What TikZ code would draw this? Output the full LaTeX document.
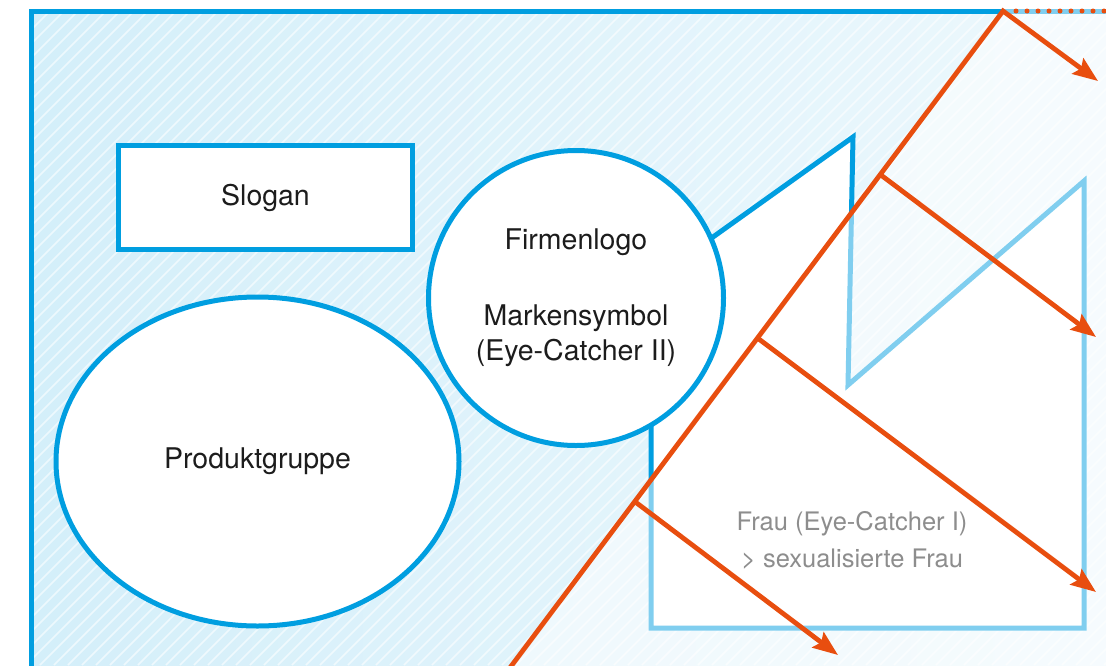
\documentclass[tikz,border=0pt]{standalone}
\usepackage{fontspec}
\setmainfont{TeX Gyre Heros}
\usepackage{xcolor}
\usetikzlibrary{positioning, arrows.meta, shapes.geometric, calc}

\definecolor{adblue}{RGB}{0,158,224}
\definecolor{adorange}{RGB}{232,78,15}
\definecolor{adtext}{RGB}{28,28,28}

\begin{document}
\begin{tikzpicture}[x=1pt, y=-1pt,
  blueline/.style={draw=adblue, line width=5pt},
  shapebox/.style={blueline, fill=white, inner sep=0pt, outer sep=0pt, align=center, text=adtext, font=\fontsize{28.5}{35}\selectfont},
  hatch/.style={white, opacity=0.6, line width=1.6pt},
  cutline/.style={draw=adorange, line width=4.8pt, line join=miter},
  pointer/.style={cutline, -{Stealth[length=25pt, width=19pt, inset=4pt]}}
]
  \useasboundingbox (0,0) rectangle (1106,665);

  % Background of the ad
  \fill[left color=adblue!17, right color=adblue!7] (31,11) rectangle (1106,665);
  \begin{scope}
    \clip (31,11) rectangle (1106,665);
    \foreach \i in {-660,-646,...,1120}
      \draw[hatch] (\i,665) -- ++(665,-665);
  \end{scope}
  \draw[blueline] (31,11) rectangle (1130,690);

  % Woman figure
  \draw[blueline, fill=white] (650,282) -- (853,137) -- (848,385) -- (1084,181) -- (1084,628) -- (651,628) -- (651,400) -- cycle;

  % Slogan
  \node[shapebox, minimum width=294pt, minimum height=104pt] (slogan) at (265.5,197.5) {Slogan};

  % Product group
  \node[shapebox, ellipse, minimum width=403pt, minimum height=329pt] (produkt) at (257.5,461.5) {Produktgruppe};

  % Logo
  \node[shapebox, circle, minimum size=295pt] (logo) at (576,298) {Firmenlogo\\[41pt]Markensymbol\\(Eye-Catcher II)};

  % Eye-Catcher I
  \node[align=center, text=adtext, font=\fontsize{25.5}{37}\selectfont] (frau) at (852,540) {Frau (Eye-Catcher I)\\> sexualisierte Frau};

  % Cut line and fading
  \coordinate (dbot) at (512,665);
  \coordinate (dtop) at (1003,11);
  \fill[white, opacity=0.5] ($(dbot)!1.05!(dtop)$) -- ($(dtop)!1.05!(dbot)$) -- (1120,700) -- (1120,-30) -- cycle;

  \coordinate (p1) at ($(dbot)!0.25!(dtop)$);
  \coordinate (p2) at ($(dbot)!0.5!(dtop)$);
  \coordinate (p3) at ($(dbot)!0.75!(dtop)$);
  \coordinate (a1) at (1098,81);
  \coordinate (a2) at (1096,337);
  \coordinate (a3) at (1096,592);
  \coordinate (a4) at (838,655);

  \draw[pointer] ($(dtop)!1.03!(dbot)$) -- (dtop) -- (a1);
  \draw[pointer] (p3) -- (a2);
  \draw[pointer] (p2) -- (a3);
  \draw[pointer] (p1) -- (a4);
  \draw[adorange, line width=5pt, line cap=round, dash pattern=on 0pt off 11pt] (1016,11) -- (1112,11);

\end{tikzpicture}
\end{document}
